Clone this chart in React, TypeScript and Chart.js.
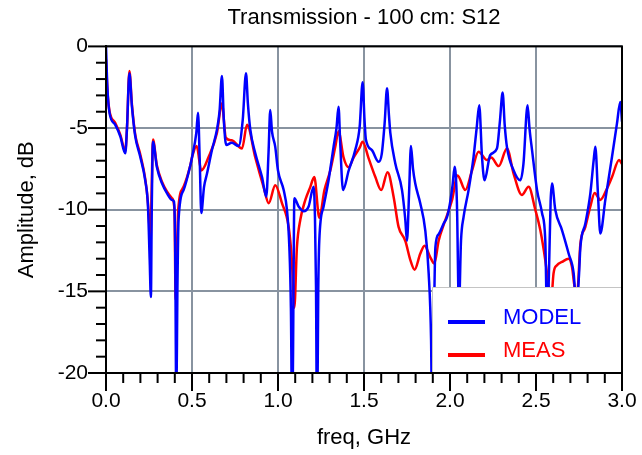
import React, { useEffect, useRef } from "react";
import { Chart, registerables } from "chart.js";

Chart.register(...registerables);

const chartTitle = "Transmission - 100 cm: S12";
const xTitle = "freq, GHz";
const yTitle = "Amplitude, dB";

const modelLabel = "MODEL";
const measLabel = "MEAS";

const modelFreq = [
  0, 0.008, 0.021, 0.054, 0.083, 0.112, 0.122, 0.136, 0.151, 0.17,
  0.199, 0.228, 0.244, 0.254, 0.261, 0.266, 0.273, 0.296, 0.326, 0.355,
  0.384, 0.395, 0.402, 0.409, 0.415, 0.422, 0.451, 0.49, 0.5, 0.525,
  0.535, 0.545, 0.554, 0.57, 0.587, 0.616, 0.645, 0.66, 0.674, 0.685,
  0.699, 0.731, 0.771, 0.795, 0.814, 0.825, 0.839, 0.868, 0.907, 0.932,
  0.945, 0.955, 0.965, 0.984, 1.0, 1.033, 1.052, 1.066, 1.075, 1.083,
  1.09, 1.095, 1.12, 1.149, 1.178, 1.207, 1.215, 1.221, 1.227, 1.234,
  1.24, 1.265, 1.294, 1.323, 1.34, 1.352, 1.362, 1.378, 1.411, 1.449,
  1.475, 1.492, 1.503, 1.511, 1.546, 1.585, 1.603, 1.62, 1.634, 1.645,
  1.653, 1.682, 1.721, 1.74, 1.75, 1.762, 1.773, 1.785, 1.798, 1.827,
  1.856, 1.876, 1.89, 1.897, 1.905, 1.915, 1.934, 1.963, 1.983, 2.0,
  2.015, 2.027, 2.04, 2.052, 2.064, 2.079, 2.108, 2.137, 2.155, 2.17,
  2.186, 2.201, 2.234, 2.273, 2.29, 2.306, 2.318, 2.331, 2.37, 2.409,
  2.427, 2.451, 2.462, 2.477, 2.506, 2.535, 2.554, 2.565, 2.575, 2.585,
  2.593, 2.612, 2.651, 2.69, 2.719, 2.735, 2.75, 2.758, 2.787, 2.816,
  2.835, 2.845, 2.86, 2.874, 2.903, 2.942, 2.971, 2.99, 3.0,
];
const modelDb = [
  0, -2.5, -4.1, -4.8, -5.5, -6.55, -5.0, -1.65, -3.7, -5.5,
  -6.75, -8.2, -9.8, -13.1, -15.35, -10, -5.84, -7.4, -8.4, -9.0,
  -9.4, -9.5, -12, -22, -15, -10.6, -8.8, -7.3, -6.8, -5.3,
  -4.06, -7, -10.2, -8.6, -7.8, -6.35, -5.1, -4, -1.81, -4.5,
  -6.04, -5.9, -6.1, -4.5, -1.65, -3.5, -5.1, -6.55, -8.0, -9.2,
  -6.5, -3.9, -5.2, -6.15, -7.6, -8.8, -10.0, -12.3, -16, -24,
  -15, -9.3, -9.8, -10.1, -9.8, -8.6, -10.5, -14.7, -24, -15,
  -11.9, -9.8, -8.2, -6.15, -5, -3.7, -6, -8.8, -7.6, -6.35,
  -4.9, -2.2, -4.5, -5.7, -6.35, -7.07, -6.6, -4.7, -2.56, -4.2,
  -5.3, -7.17, -8.8, -10.6, -11.9, -9, -6.1, -7.5, -8.4, -9.6,
  -11.25, -13.9, -18, -24, -18, -12.3, -11.5, -10.85, -10.44, -9.6,
  -8.5, -7.37, -9.5, -16, -11.9, -10.44, -8.8, -6.76, -5, -3.6,
  -6.76, -8.2, -6.65, -6.25, -4.6, -2.83, -4.8, -6.15, -7.6, -8.2,
  -7.2, -3.6, -5, -6.35, -8.8, -10.2, -11.9, -17, -14, -9.5,
  -8.4, -10.0, -11.25, -12.7, -13.9, -16, -14, -12.3, -10.85, -9.0,
  -7, -6.15, -9, -11.46, -9.4, -6.76, -4.7, -3.4, -4.6,
];

const measFreq = [
  0, 0.01, 0.021, 0.054, 0.083, 0.112, 0.122, 0.136, 0.151, 0.17,
  0.199, 0.228, 0.244, 0.252, 0.258, 0.265, 0.273, 0.296, 0.326, 0.355,
  0.384, 0.398, 0.405, 0.412, 0.42, 0.451, 0.49, 0.5, 0.527, 0.554,
  0.597, 0.645, 0.674, 0.697, 0.731, 0.791, 0.82, 0.868, 0.916, 0.946,
  0.984, 1.023, 1.062, 1.08, 1.095, 1.11, 1.13, 1.159, 1.188, 1.211,
  1.24, 1.27, 1.304, 1.333, 1.352, 1.381, 1.41, 1.44, 1.475, 1.492,
  1.527, 1.566, 1.6, 1.637, 1.672, 1.701, 1.74, 1.77, 1.794, 1.827,
  1.852, 1.885, 1.909, 1.934, 1.969, 2.012, 2.044, 2.089, 2.128, 2.166,
  2.215, 2.24, 2.283, 2.331, 2.37, 2.418, 2.457, 2.496, 2.525, 2.554,
  2.574, 2.585, 2.602, 2.622, 2.651, 2.69, 2.709, 2.725, 2.74, 2.758,
  2.787, 2.816, 2.841, 2.874, 2.913, 2.942, 2.983, 3.0,
];
const measDb = [
  -0.8, -3, -4.0, -4.7, -5.4, -6.4, -5, -1.5, -3.6, -5.4,
  -6.6, -8.1, -9.6, -11, -12.3, -9, -5.7, -7.3, -8.3, -8.9,
  -9.3, -10, -15.5, -13, -10, -8.6, -7.3, -6.8, -6.1, -7.6,
  -6.76, -5.3, -3.5, -5.6, -5.75, -6.25, -4.8, -6.8, -8.6, -9.6,
  -8.5, -9.6, -11.05, -13, -16, -12.3, -10.6, -9.4, -8.6, -8.0,
  -10.5, -8.8, -7.6, -6.15, -5.2, -6.8, -7.4, -6.8, -6.2, -5.84,
  -6.86, -8.0, -8.8, -7.7, -9.2, -11.05, -11.9, -13.1, -13.67, -12.7,
  -12.2, -12.9, -13.3, -11.9, -10.75, -9.4, -7.9, -8.8, -7.6, -6.45,
  -6.96, -6.8, -7.33, -6.25, -7.8, -9.1, -8.6, -10.0, -11.25, -13.1,
  -14.75, -16, -13.9, -13.4, -13.2, -13.0, -13.5, -14.75, -15, -12.1,
  -11.05, -9.8, -8.97, -9.4, -8.7, -8.0, -6.96, -7.2,
];

const xMin = 0;
const xMax = 3;
const xMajorStep = 0.5;
const xMinorStep = 0.1;
const yMin = -20;
const yMax = 0;
const yMajorStep = 5;
const yMinorStep = 1;

const FONT = '"Liberation Sans", Arial, Helvetica, sans-serif';
const GRID = "#8893a0";

const isMajor = (v: number, step: number) =>
  Math.abs(v / step - Math.round(v / step)) < 1e-6;

const framePlugin = {
  id: "frameAndLegend",
  afterDatasetsDraw(chart: any) {
    const { ctx, chartArea } = chart;
    ctx.save();
    // legend box
    const w = 190;
    const h = 86;
    const bx = chartArea.right - w;
    const by = chartArea.bottom - h;
    ctx.fillStyle = "#ffffff";
    ctx.fillRect(bx, by, w, h);
    ctx.strokeStyle = "#c4c4c4";
    ctx.lineWidth = 1;
    ctx.strokeRect(bx + 0.5, by + 0.5, w - 1, h);
    chart.data.datasets.forEach((ds: any, i: number) => {
      const ly = by + 35 + i * 33;
      ctx.strokeStyle = ds.borderColor;
      ctx.lineWidth = 4;
      ctx.beginPath();
      ctx.moveTo(bx + 16, ly);
      ctx.lineTo(bx + 53, ly);
      ctx.stroke();
      ctx.fillStyle = ds.borderColor;
      ctx.font = `22px ${FONT}`;
      ctx.textBaseline = "alphabetic";
      ctx.textAlign = "left";
      ctx.fillText(ds.label, bx + 71, ly + 2);
    });
    // frame
    ctx.strokeStyle = "#000";
    ctx.lineWidth = 2;
    ctx.strokeRect(
      chartArea.left,
      chartArea.top,
      chartArea.right - chartArea.left,
      chartArea.bottom - chartArea.top
    );
    // tick marks
    ctx.lineWidth = 2;
    const xs = chart.scales.x;
    xs.ticks.forEach((t: any) => {
      const px = xs.getPixelForValue(t.value);
      const len = isMajor(t.value, xMajorStep) ? 18 : 10;
      ctx.beginPath();
      ctx.moveTo(px, chartArea.bottom);
      ctx.lineTo(px, chartArea.bottom + len);
      ctx.stroke();
    });
    const ys = chart.scales.y;
    ys.ticks.forEach((t: any) => {
      const py = ys.getPixelForValue(t.value);
      const len = isMajor(t.value, yMajorStep) ? 18 : 10;
      ctx.beginPath();
      ctx.moveTo(chartArea.left, py);
      ctx.lineTo(chartArea.left - len, py);
      ctx.stroke();
    });
    ctx.restore();
  },
};

export default function App() {
  const canvasRef = useRef<HTMLCanvasElement | null>(null);

  useEffect(() => {
    document.body.style.margin = "0";
    const canvas = canvasRef.current;
    if (!canvas) return;
    const chart = new Chart(canvas, {
      type: "line",
      data: {
        datasets: [
          {
            label: modelLabel,
            data: modelFreq.map((f, i) => ({ x: f, y: modelDb[i] })),
            borderColor: "#0000ff",
            backgroundColor: "#0000ff",
            borderWidth: 2.5,
            pointRadius: 0,
            cubicInterpolationMode: "monotone",
            order: 0,
          },
          {
            label: measLabel,
            data: measFreq.map((f, i) => ({ x: f, y: measDb[i] })),
            borderColor: "#ff0000",
            backgroundColor: "#ff0000",
            borderWidth: 2.5,
            pointRadius: 0,
            cubicInterpolationMode: "monotone",
            order: 1,
          },
        ],
      },
      options: {
        responsive: false,
        animation: false,
        devicePixelRatio: 1,
        layout: { padding: { left: 0, right: 20, top: 0, bottom: 0 } },
        plugins: {
          legend: { display: false },
          tooltip: { enabled: false },
          title: {
            display: true,
            text: chartTitle,
            fullSize: false,
            color: "#000",
            font: { family: FONT, size: 22, weight: "normal", lineHeight: 1.2 },
            padding: { top: 5, bottom: 15 },
          },
        },
        scales: {
          x: {
            type: "linear",
            min: xMin,
            max: xMax,
            afterFit: (s: any) => {
              s.height = 82;
              s.paddingLeft = 0;
              s.paddingRight = 0;
            },
            ticks: {
              stepSize: xMinorStep,
              autoSkip: false,
              maxRotation: 0,
              padding: 16,
              color: "#000",
              font: { family: FONT, size: 21 },
              callback: (v: any) =>
                isMajor(Number(v), xMajorStep) ? Number(v).toFixed(1) : "",
            },
            grid: {
              drawTicks: false,
              lineWidth: 2,
              color: (c: any) =>
                c.tick && isMajor(c.tick.value, xMajorStep) ? GRID : "rgba(0,0,0,0)",
            },
            border: { display: true, color: "#000", width: 2 },
            title: {
              display: true,
              text: xTitle,
              color: "#000",
              font: { family: FONT, size: 22, lineHeight: 1.2 },
              padding: { top: 0, bottom: 4 },
            },
          },
          y: {
            type: "linear",
            min: yMin,
            max: yMax,
            afterFit: (s: any) => {
              s.width = 106;
              s.paddingTop = 0;
              s.paddingBottom = 0;
            },
            ticks: {
              stepSize: yMinorStep,
              autoSkip: false,
              padding: 18,
              color: "#000",
              font: { family: FONT, size: 21 },
              callback: (v: any) =>
                isMajor(Number(v), yMajorStep) ? String(Math.round(Number(v))) : "",
            },
            grid: {
              drawTicks: false,
              lineWidth: 2,
              color: (c: any) =>
                c.tick && isMajor(c.tick.value, yMajorStep) ? GRID : "rgba(0,0,0,0)",
            },
            border: { display: true, color: "#000", width: 2 },
            title: {
              display: true,
              text: yTitle,
              color: "#000",
              font: { family: FONT, size: 22, lineHeight: 1.2 },
              padding: { top: 14, bottom: 0 },
            },
          },
        },
      },
      plugins: [framePlugin],
    } as any);
    return () => chart.destroy();
  }, []);

  return (
    <div style={{ position: "absolute", left: 0, top: 0, width: 642, height: 455 }}>
      <canvas ref={canvasRef} width={642} height={455} />
    </div>
  );
}
